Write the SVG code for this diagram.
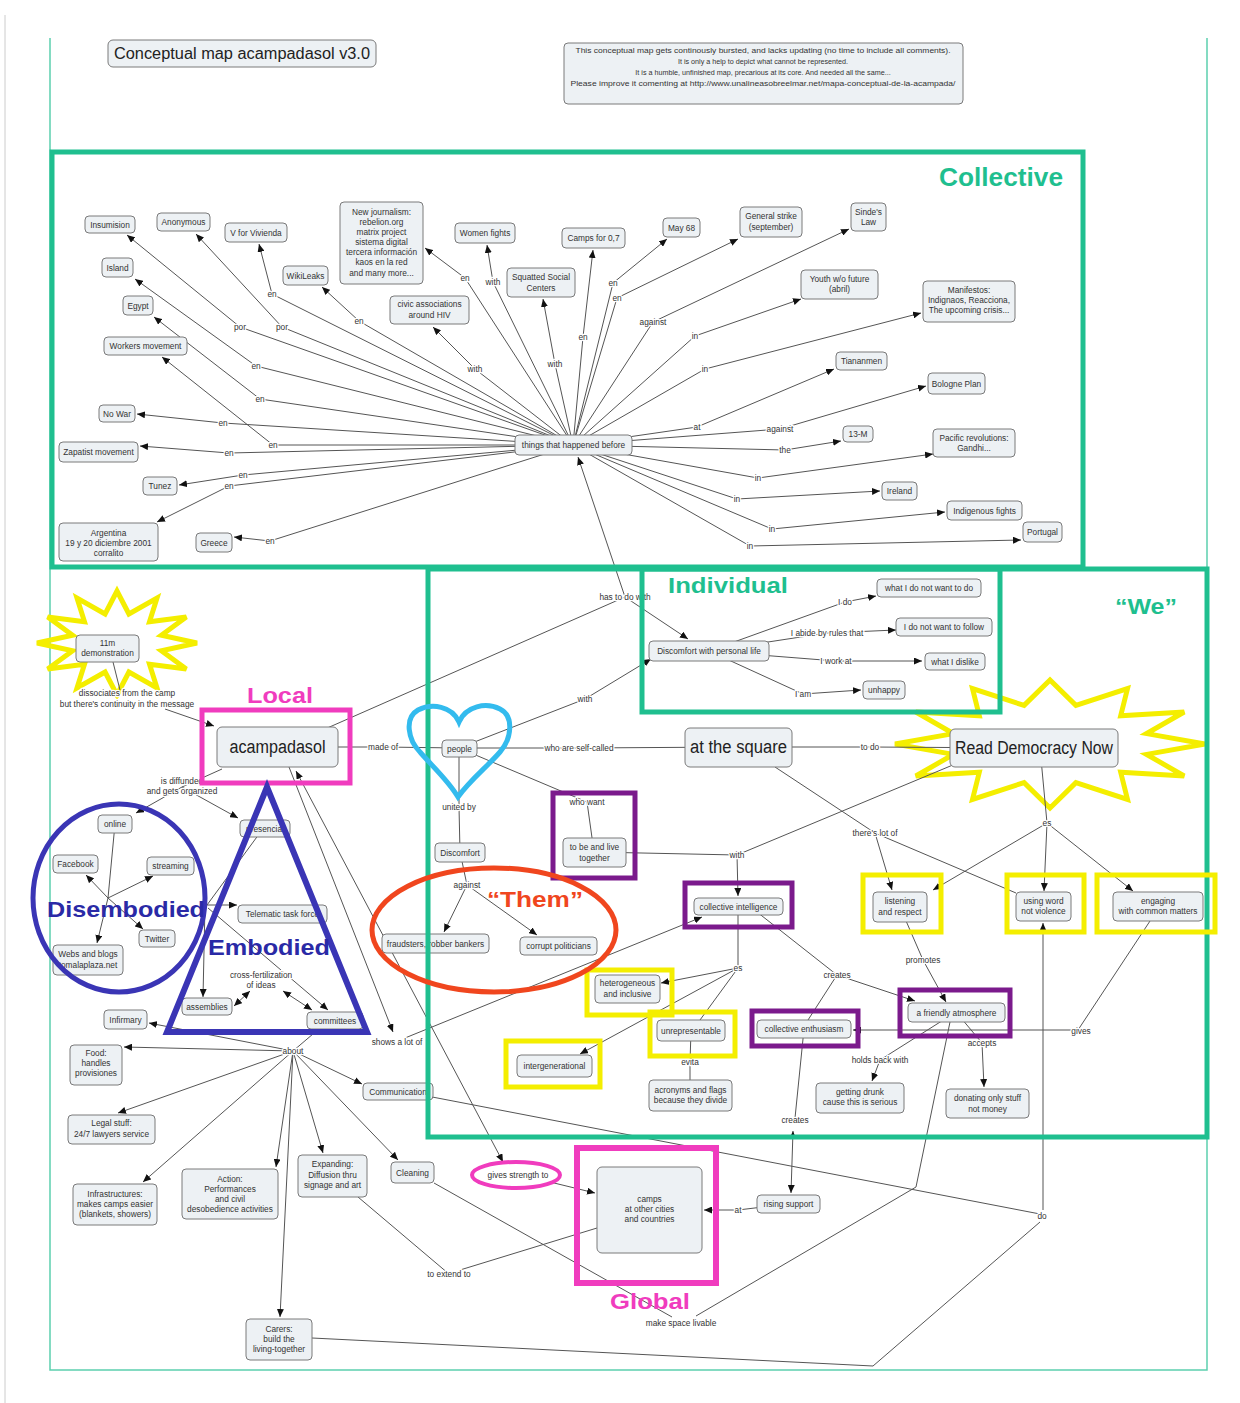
<svg xmlns="http://www.w3.org/2000/svg" width="1240" height="1403" viewBox="0 0 1240 1403">
<style>
.n rect{fill:#edf1f4;stroke:#7a7a7a;stroke-width:1}
.t{font-family:"Liberation Sans",Arial,sans-serif;font-size:8.3px;fill:#333;text-anchor:middle}
.big{font-family:"Liberation Sans",Arial,sans-serif;font-size:18px;fill:#222;text-anchor:middle}
.l{font-family:"Liberation Sans",Arial,sans-serif;font-size:8.3px;fill:#333;text-anchor:middle;stroke:#fff;stroke-width:2.5px;paint-order:stroke;stroke-linejoin:round}
.c{fill:none;stroke:#555;stroke-width:1}
.a{marker-end:url(#ah)}
.b{marker-start:url(#ah);marker-end:url(#ah)}
.cat{font-family:"Liberation Sans",Arial,sans-serif;font-weight:bold;font-size:22px;text-anchor:middle}
.teal{fill:none;stroke:#1fbf8f;stroke-width:5}
.yel{fill:none;stroke:#f4ee00;stroke-width:5}
.pur{fill:none;stroke:#7b1a8c;stroke-width:5}
.mag{fill:none;stroke:#f03cbe;stroke-width:5}
</style>
<defs>
<marker id="ah" viewBox="0 0 8 7" refX="8" refY="3.5" markerWidth="8" markerHeight="7" markerUnits="userSpaceOnUse" orient="auto-start-reverse"><path d="M0,0 L8,3.5 L0,7 z" fill="#111"/></marker>
</defs>
<rect width="1240" height="1403" fill="#fff"/>
<line x1="5" y1="15" x2="5" y2="1403" stroke="#ccc" stroke-width="1"/>
<g id="frame" stroke="#5ccfae" stroke-width="1.5" fill="none">
<polyline points="50,38 50,1370 1207,1370 1207,38"/>
</g>
<g id="stars">
<polygon fill="none" stroke="#f4ee00" stroke-width="5" points="197,643 161.4,650.8 186.3,669 149.5,664.2 157,688 128.9,672 117,695 105.1,672 77,688 84.5,664.2 47.7,669 72.6,650.8 37,643 72.6,635.2 47.7,617 84.5,621.8 77,598 105.1,614 117,591 128.9,614 157,598 149.5,621.8 186.3,617 161.4,635.2"/>
<polygon fill="none" stroke="#f4ee00" stroke-width="5" points="1205,744 1146.6,754.4 1184.2,776 1120.7,772.3 1127.5,799.4 1075.9,782.6 1050,808 1024.1,782.6 972.5,799.4 979.3,772.3 915.8,776 953.4,754.4 895,744 953.4,733.6 915.8,712 979.3,715.7 972.5,688.6 1024.1,705.4 1050,680 1075.9,705.4 1127.5,688.6 1120.7,715.7 1184.2,712 1146.6,733.6"/>
</g>
<g id="connectors">
<polyline class="c a" points="573,445 240,327 127,235"/>
<polyline class="c a" points="573,445 282,327 196,234"/>
<polyline class="c a" points="573,445 272,294 259,244"/>
<polyline class="c a" points="573,445 256,366 135,279"/>
<polyline class="c a" points="573,445 359,321 322,287"/>
<polyline class="c a" points="573,445 260,399 154,317"/>
<polyline class="c a" points="573,445 273,445 162,357"/>
<polyline class="c a" points="573,445 223,423 137,414"/>
<polyline class="c a" points="573,445 229,453 140,446"/>
<polyline class="c a" points="573,445 243,475 179,485"/>
<polyline class="c a" points="573,445 229,486 157,522"/>
<polyline class="c a" points="573,445 270,541 234,537"/>
<polyline class="c a" points="573,445 465,278 425,248"/>
<polyline class="c a" points="573,445 475,369 433,327"/>
<polyline class="c a" points="573,445 493,282 487,245"/>
<polyline class="c a" points="573,445 555,364 543,299"/>
<polyline class="c a" points="573,445 583,337 593,250"/>
<polyline class="c a" points="573,445 613,283 667,239"/>
<polyline class="c a" points="573,445 617,298 738,239"/>
<polyline class="c a" points="573,445 653,322 849,229"/>
<polyline class="c a" points="573,445 695,336 801,299"/>
<polyline class="c a" points="573,445 705,369 921,313"/>
<polyline class="c a" points="573,445 697,427 834,369"/>
<polyline class="c a" points="573,445 780,429 926,386"/>
<polyline class="c a" points="573,445 785,450 841,441"/>
<polyline class="c a" points="573,445 758,478 933,454"/>
<polyline class="c a" points="573,445 737,499 880,491"/>
<polyline class="c a" points="573,445 772,529 945,512"/>
<polyline class="c a" points="573,445 750,546 1021,540"/>
<polyline class="c a" points="625,597 578,457"/>
<polyline class="c" points="300,740 625,597"/>
<polyline class="c a" points="625,597 688,639"/>
<polyline class="c" points="110,650 120,690"/>
<polyline class="c a" points="165,709 214,726"/>
<polyline class="c" points="278,747 383,747 459,748"/>
<polyline class="c a" points="459,748 585,699 651,659"/>
<polyline class="c" points="459,748 579,748 738,747"/>
<polyline class="c" points="459,748 459,807 460,852"/>
<polyline class="c" points="459,748 587,802 594,852"/>
<polyline class="c" points="738,747 870,747 1034,748"/>
<polyline class="c a" points="775,767 875,833 892,890"/>
<polyline class="c" points="875,833 1016,893"/>
<polyline class="c" points="1040,748 1047,823"/>
<polyline class="c a" points="1047,823 933,890"/>
<polyline class="c a" points="1047,823 1044,891"/>
<polyline class="c a" points="1047,823 1133,891"/>
<polyline class="c a" points="709,651 845,602 876,596"/>
<polyline class="c a" points="709,651 827,633 896,630"/>
<polyline class="c a" points="709,651 836,661 922,661"/>
<polyline class="c a" points="709,651 803,694 861,690"/>
<polyline class="c a" points="594,852 737,855 738,896"/>
<polyline class="c" points="737,855 960,762"/>
<polyline class="c" points="460,852 467,885"/>
<polyline class="c a" points="467,885 444,932"/>
<polyline class="c a" points="467,885 537,935"/>
<polyline class="c" points="738,906 738,968"/>
<polyline class="c a" points="738,968 661,983"/>
<polyline class="c" points="738,968 700,1020"/>
<polyline class="c a" points="738,968 580,1054"/>
<polyline class="c a" points="757,912 837,975 915,1001"/>
<polyline class="c" points="837,975 808,1020"/>
<polyline class="c a" points="900,907 923,960 946,1002"/>
<polyline class="c a" points="1150,921 1078,1030 853,1030"/>
<polyline class="c a" points="956,1012 982,1043 984,1087"/>
<polyline class="c a" points="956,1012 880,1060 872,1081"/>
<polyline class="c" points="691,1031 690,1062 690,1080"/>
<polyline class="c" points="804,1029 795,1118"/>
<polyline class="c b" points="793,1131 791,1193"/>
<polyline class="c a" points="788,1204 738,1210 704,1210"/>
<polyline class="c a" points="289,767 393,1032"/>
<polyline class="c a" points="405,1038 702,917"/>
<polyline class="c b" points="296,771 503,1162"/>
<polyline class="c a" points="550,1182 595,1193"/>
<polyline class="c" points="222,769 182,787"/>
<polyline class="c a" points="182,787 136,813"/>
<polyline class="c a" points="182,787 238,818"/>
<polyline class="c" points="115,824 108,898"/>
<polyline class="c a" points="108,898 86,875"/>
<polyline class="c a" points="108,898 153,876"/>
<polyline class="c a" points="108,898 143,929"/>
<polyline class="c a" points="108,898 97,943"/>
<polyline class="c" points="262,830 207,905"/>
<polyline class="c a" points="207,905 237,905"/>
<polyline class="c a" points="205,905 203,997"/>
<polyline class="c a" points="208,908 328,1010"/>
<polyline class="c b" points="234,1006 250,991"/>
<polyline class="c b" points="283,991 312,1010"/>
<polyline class="c" points="320,1028 293,1051"/>
<polyline class="c a" points="293,1051 149,1023"/>
<polyline class="c a" points="293,1051 124,1047"/>
<polyline class="c a" points="293,1051 362,1084"/>
<polyline class="c a" points="293,1051 118,1113"/>
<polyline class="c a" points="293,1051 143,1182"/>
<polyline class="c a" points="293,1051 276,1167"/>
<polyline class="c a" points="293,1051 323,1153"/>
<polyline class="c a" points="293,1051 398,1160"/>
<polyline class="c a" points="293,1051 280,1317"/>
<polyline class="c" points="358,1197 449,1274"/>
<polyline class="c" points="460,1270 597,1228"/>
<polyline class="c" points="434,1183 672,1317"/>
<polyline class="c" points="696,1316 916,1187 950,1022"/>
<polyline class="c" points="427,1096 1040,1214"/>
<polyline class="c a" points="1043,1210 1043,923"/>
<polyline class="c" points="312,1338 873,1366 1040,1222"/>
</g>
<g id="labels">
<text class="l" x="240" y="330">por</text>
<text class="l" x="282" y="330">por</text>
<text class="l" x="272" y="297">en</text>
<text class="l" x="256" y="369">en</text>
<text class="l" x="359" y="324">en</text>
<text class="l" x="260" y="402">en</text>
<text class="l" x="273" y="448">en</text>
<text class="l" x="223" y="426">en</text>
<text class="l" x="229" y="456">en</text>
<text class="l" x="243" y="478">en</text>
<text class="l" x="229" y="489">en</text>
<text class="l" x="270" y="544">en</text>
<text class="l" x="465" y="281">en</text>
<text class="l" x="475" y="372">with</text>
<text class="l" x="493" y="285">with</text>
<text class="l" x="555" y="367">with</text>
<text class="l" x="583" y="340">en</text>
<text class="l" x="613" y="286">en</text>
<text class="l" x="617" y="301">en</text>
<text class="l" x="653" y="325">against</text>
<text class="l" x="695" y="339">in</text>
<text class="l" x="705" y="372">in</text>
<text class="l" x="697" y="430">at</text>
<text class="l" x="780" y="432">against</text>
<text class="l" x="785" y="453">the</text>
<text class="l" x="758" y="481">in</text>
<text class="l" x="737" y="502">in</text>
<text class="l" x="772" y="532">in</text>
<text class="l" x="750" y="549">in</text>
<text class="l" x="625" y="600">has to do with</text>
<text class="l" x="127" y="696">dissociates from the camp</text>
<text class="l" x="127" y="707">but there's continuity in the message</text>
<text class="l" x="383" y="750">made of</text>
<text class="l" x="182" y="784">is diffunded</text>
<text class="l" x="182" y="794">and gets organized</text>
<text class="l" x="585" y="702">with</text>
<text class="l" x="579" y="751">who are self-called</text>
<text class="l" x="459" y="810">united by</text>
<text class="l" x="587" y="805">who want</text>
<text class="l" x="870" y="750">to do</text>
<text class="l" x="845" y="605">I do</text>
<text class="l" x="827" y="636">I abide by rules that</text>
<text class="l" x="836" y="664">I work at</text>
<text class="l" x="803" y="697">I am</text>
<text class="l" x="875" y="836">there's lot of</text>
<text class="l" x="1047" y="826">es</text>
<text class="l" x="737" y="858">with</text>
<text class="l" x="467" y="888">against</text>
<text class="l" x="738" y="971">es</text>
<text class="l" x="837" y="978">creates</text>
<text class="l" x="923" y="963">promotes</text>
<text class="l" x="1081" y="1034">gives</text>
<text class="l" x="982" y="1046">accepts</text>
<text class="l" x="880" y="1063">holds back with</text>
<text class="l" x="690" y="1065">evita</text>
<text class="l" x="795" y="1123">creates</text>
<text class="l" x="738" y="1213">at</text>
<text class="l" x="293" y="1054">about</text>
<text class="l" x="397" y="1045">shows a lot of</text>
<text class="l" x="261" y="978">cross-fertilization</text>
<text class="l" x="261" y="988">of ideas</text>
<text class="l" x="449" y="1277">to extend to</text>
<text class="l" x="681" y="1326">make space livable</text>
<text class="l" x="1042" y="1219">do</text>
</g>
<g id="nodes">
<g id="title" class="n"><rect x="108" y="40" width="268" height="27" rx="5"/><text class="t" x="242" y="59" style="font-size:16px;fill:#222" textLength="256" lengthAdjust="spacingAndGlyphs">Conceptual map acampadasol v3.0</text></g>
<g id="note" class="n"><rect x="564" y="43" width="399" height="61" rx="4"/>
<text class="t" style="font-size:7.2px"><tspan x="763" y="53" textLength="375" lengthAdjust="spacingAndGlyphs">This conceptual map gets continously bursted, and lacks updating (no time to include all comments).</tspan><tspan x="763" y="64">It is only a help to depict what cannot be represented.</tspan><tspan x="763" y="75">It is a humble, unfinished map, precarious at its core.  And needed all the same...</tspan><tspan x="763" y="86" textLength="385" lengthAdjust="spacingAndGlyphs">Please improve it comenting at http://www.unalineasobreelmar.net/mapa-conceptual-de-la-acampada/</tspan></text></g>
<g id="hub" class="n"><rect x="515" y="435" width="117" height="20" rx="4"/><text class="t" x="573.5" y="448">things that happened before</text></g>
<g id="insumision" class="n"><rect x="85" y="216" width="50" height="17" rx="4"/><text class="t" x="110" y="227.5">Insumision</text></g>
<g id="anonymous" class="n"><rect x="157" y="213" width="53" height="18" rx="4"/><text class="t" x="183.5" y="225">Anonymous</text></g>
<g id="vvivienda" class="n"><rect x="225" y="223" width="62" height="19" rx="4"/><text class="t" x="256" y="235.5">V for Vivienda</text></g>
<g id="island" class="n"><rect x="102" y="258" width="31" height="19" rx="4"/><text class="t" x="117.5" y="270.5">Island</text></g>
<g id="wikileaks" class="n"><rect x="283" y="266" width="45" height="19" rx="4"/><text class="t" x="305.5" y="278.5">WikiLeaks</text></g>
<g id="newjournalism" class="n"><rect x="340" y="202" width="83" height="82" rx="4"/><text class="t"><tspan x="381.5" y="215">New journalism:</tspan><tspan x="381.5" y="225">rebelion.org</tspan><tspan x="381.5" y="235">matrix project</tspan><tspan x="381.5" y="245">sistema digital</tspan><tspan x="381.5" y="255">tercera información</tspan><tspan x="381.5" y="265">kaos en la red</tspan><tspan x="381.5" y="276">and many more...</tspan></text></g>
<g id="egypt" class="n"><rect x="123" y="296" width="30" height="19" rx="4"/><text class="t" x="138" y="308.5">Egypt</text></g>
<g id="civic" class="n"><rect x="390" y="296" width="79" height="28" rx="4"/><text class="t"><tspan x="429.5" y="307">civic associations</tspan><tspan x="429.5" y="318">around HIV</tspan></text></g>
<g id="workers" class="n"><rect x="104" y="337" width="83" height="18" rx="4"/><text class="t" x="145.5" y="349">Workers movement</text></g>
<g id="nowar" class="n"><rect x="99" y="405" width="36" height="17" rx="4"/><text class="t" x="117" y="416.5">No War</text></g>
<g id="zapatist" class="n"><rect x="59" y="442" width="79" height="20" rx="4"/><text class="t" x="98.5" y="455">Zapatist movement</text></g>
<g id="tunez" class="n"><rect x="143" y="477" width="34" height="18" rx="4"/><text class="t" x="160" y="489">Tunez</text></g>
<g id="argentina" class="n"><rect x="59" y="523" width="99" height="38" rx="4"/><text class="t"><tspan x="108.5" y="536">Argentina</tspan><tspan x="108.5" y="546">19 y 20 diciembre 2001</tspan><tspan x="108.5" y="556">corralito</tspan></text></g>
<g id="greece" class="n"><rect x="196" y="533" width="36" height="19" rx="4"/><text class="t" x="214" y="545.5">Greece</text></g>
<g id="women" class="n"><rect x="455" y="223" width="60" height="20" rx="4"/><text class="t" x="485" y="236">Women fights</text></g>
<g id="camps07" class="n"><rect x="562" y="228" width="63" height="20" rx="4"/><text class="t" x="593.5" y="241">Camps for 0,7</text></g>
<g id="may68" class="n"><rect x="663" y="218" width="37" height="19" rx="4"/><text class="t" x="681.5" y="230.5">May 68</text></g>
<g id="squatted" class="n"><rect x="507" y="268" width="68" height="29" rx="4"/><text class="t"><tspan x="541" y="280">Squatted Social</tspan><tspan x="541" y="291">Centers</tspan></text></g>
<g id="general" class="n"><rect x="740" y="207" width="62" height="30" rx="4"/><text class="t"><tspan x="771" y="219">General strike</tspan><tspan x="771" y="230">(september)</tspan></text></g>
<g id="sinde" class="n"><rect x="851" y="203" width="35" height="28" rx="4"/><text class="t"><tspan x="868.5" y="215">Sinde's</tspan><tspan x="868.5" y="225">Law</tspan></text></g>
<g id="youth" class="n"><rect x="801" y="270" width="77" height="29" rx="4"/><text class="t"><tspan x="839.5" y="282">Youth w/o future</tspan><tspan x="839.5" y="292">(abril)</tspan></text></g>
<g id="manifestos" class="n"><rect x="923" y="281" width="92" height="41" rx="4"/><text class="t"><tspan x="969" y="293">Manifestos:</tspan><tspan x="969" y="303">Indignaos, Reacciona,</tspan><tspan x="969" y="313">The upcoming crisis...</tspan></text></g>
<g id="tiananmen" class="n"><rect x="836" y="352" width="51" height="18" rx="4"/><text class="t" x="861.5" y="364">Tiananmen</text></g>
<g id="bologne" class="n"><rect x="928" y="373" width="57" height="21" rx="4"/><text class="t" x="956.5" y="386.5">Bologne Plan</text></g>
<g id="m13" class="n"><rect x="843" y="426" width="30" height="16" rx="4"/><text class="t" x="858" y="437">13-M</text></g>
<g id="pacific" class="n"><rect x="933" y="429" width="82" height="28" rx="4"/><text class="t"><tspan x="974" y="441">Pacific revolutions:</tspan><tspan x="974" y="451">Gandhi...</tspan></text></g>
<g id="ireland" class="n"><rect x="882" y="482" width="35" height="18" rx="4"/><text class="t" x="899.5" y="494">Ireland</text></g>
<g id="indigenous" class="n"><rect x="947" y="501" width="75" height="19" rx="4"/><text class="t" x="984.5" y="513.5">Indigenous fights</text></g>
<g id="portugal" class="n"><rect x="1023" y="522" width="39" height="20" rx="4"/><text class="t" x="1042.5" y="535">Portugal</text></g>
<g id="m11" class="n"><rect x="76" y="635" width="63" height="27" rx="4"/><text class="t"><tspan x="107.5" y="646">11m</tspan><tspan x="107.5" y="656">demonstration</tspan></text></g>
<g id="acampadasol" class="n"><rect x="217" y="727" width="121" height="40" rx="5"/><text class="big" x="277.5" y="753" textLength="96" lengthAdjust="spacingAndGlyphs">acampadasol</text></g>
<g id="online" class="n"><rect x="98" y="815" width="34" height="18" rx="4"/><text class="t" x="115" y="827">online</text></g>
<g id="presencial" class="n"><rect x="240" y="820" width="50" height="17" rx="4"/><text class="t" x="265" y="831.5">presencial</text></g>
<g id="facebook" class="n"><rect x="53" y="855" width="45" height="18" rx="4"/><text class="t" x="75.5" y="867">Facebook</text></g>
<g id="streaming" class="n"><rect x="147" y="857" width="47" height="18" rx="4"/><text class="t" x="170.5" y="869">streaming</text></g>
<g id="twitter" class="n"><rect x="139" y="930" width="36" height="17" rx="4"/><text class="t" x="157" y="941.5">Twitter</text></g>
<g id="webs" class="n"><rect x="53" y="945" width="70" height="30" rx="4"/><text class="t"><tspan x="88" y="957">Webs and blogs</tspan><tspan x="88" y="968">tomalaplaza.net</tspan></text></g>
<g id="telematic" class="n"><rect x="238" y="905" width="89" height="18" rx="4"/><text class="t" x="282.5" y="917">Telematic task force</text></g>
<g id="assemblies" class="n"><rect x="182" y="998" width="50" height="17" rx="4"/><text class="t" x="207" y="1009.5">assemblies</text></g>
<g id="committees" class="n"><rect x="307" y="1012" width="56" height="17" rx="4"/><text class="t" x="335" y="1023.5">committees</text></g>
<g id="infirmary" class="n"><rect x="104" y="1010" width="43" height="19" rx="4"/><text class="t" x="125.5" y="1022.5">Infirmary</text></g>
<g id="food" class="n"><rect x="70" y="1045" width="52" height="40" rx="4"/><text class="t"><tspan x="96" y="1056">Food:</tspan><tspan x="96" y="1066">handles</tspan><tspan x="96" y="1076">provisiones</tspan></text></g>
<g id="communication" class="n"><rect x="363" y="1083" width="70" height="17" rx="4"/><text class="t" x="398" y="1094.5">Communication</text></g>
<g id="legal" class="n"><rect x="68" y="1115" width="87" height="29" rx="4"/><text class="t"><tspan x="111.5" y="1126">Legal stuff:</tspan><tspan x="111.5" y="1137">24/7 lawyers service</tspan></text></g>
<g id="infra" class="n"><rect x="73" y="1184" width="84" height="41" rx="4"/><text class="t"><tspan x="115" y="1197">Infrastructures:</tspan><tspan x="115" y="1207">makes camps easier</tspan><tspan x="115" y="1217">(blankets, showers)</tspan></text></g>
<g id="action" class="n"><rect x="182" y="1169" width="96" height="50" rx="4"/><text class="t"><tspan x="230" y="1182">Action:</tspan><tspan x="230" y="1192">Performances</tspan><tspan x="230" y="1202">and civil</tspan><tspan x="230" y="1212">desobedience activities</tspan></text></g>
<g id="expanding" class="n"><rect x="298" y="1155" width="69" height="42" rx="4"/><text class="t"><tspan x="332.5" y="1167">Expanding:</tspan><tspan x="332.5" y="1178">Diffusion thru</tspan><tspan x="332.5" y="1188">signage and art</tspan></text></g>
<g id="cleaning" class="n"><rect x="391" y="1162" width="43" height="21" rx="4"/><text class="t" x="412.5" y="1175.5">Cleaning</text></g>
<g id="carers" class="n"><rect x="246" y="1319" width="66" height="41" rx="4"/><text class="t"><tspan x="279" y="1332">Carers:</tspan><tspan x="279" y="1342">build the</tspan><tspan x="279" y="1352">living-together</tspan></text></g>
<g id="people" class="n"><rect x="442" y="740" width="35" height="17" rx="4"/><text class="t" x="459.5" y="751.5">people</text></g>
<g id="discomfortpl" class="n"><rect x="649" y="641" width="120" height="20" rx="4"/><text class="t" x="709" y="654">Discomfort with personal life</text></g>
<g id="atsquare" class="n"><rect x="685" y="728" width="107" height="39" rx="5"/><text class="big" x="738.5" y="753" textLength="97" lengthAdjust="spacingAndGlyphs">at the square</text></g>
<g id="wdnwtd" class="n"><rect x="877" y="579" width="104" height="18" rx="4"/><text class="t" x="929" y="591">what I do not want to do</text></g>
<g id="idnwtf" class="n"><rect x="896" y="618" width="96" height="18" rx="4"/><text class="t" x="944" y="630">I do not want to follow</text></g>
<g id="dislike" class="n"><rect x="925" y="653" width="60" height="17" rx="4"/><text class="t" x="955" y="664.5">what I dislike</text></g>
<g id="unhappy" class="n"><rect x="863" y="681" width="42" height="18" rx="4"/><text class="t" x="884" y="693">unhappy</text></g>
<g id="rdn" class="n"><rect x="950" y="729" width="168" height="38" rx="5"/><text class="big" x="1034" y="754" textLength="158" lengthAdjust="spacingAndGlyphs">Read Democracy Now</text></g>
<g id="tobelive" class="n"><rect x="563" y="838" width="63" height="29" rx="4"/><text class="t"><tspan x="594.5" y="850">to be and live</tspan><tspan x="594.5" y="861">together</tspan></text></g>
<g id="discomfort" class="n"><rect x="435" y="843" width="50" height="19" rx="4"/><text class="t" x="460" y="855.5">Discomfort</text></g>
<g id="fraudster" class="n"><rect x="382" y="934" width="107" height="19" rx="4"/><text class="t" x="435.5" y="946.5">fraudsters, robber bankers</text></g>
<g id="corrupt" class="n"><rect x="520" y="937" width="77" height="18" rx="4"/><text class="t" x="558.5" y="949">corrupt politicians</text></g>
<g id="collint" class="n"><rect x="694" y="898" width="89" height="17" rx="4"/><text class="t" x="738.5" y="909.5">collective intelligence</text></g>
<g id="listening" class="n"><rect x="873" y="892" width="54" height="30" rx="4"/><text class="t"><tspan x="900" y="904">listening</tspan><tspan x="900" y="915">and respect</tspan></text></g>
<g id="usingword" class="n"><rect x="1016" y="892" width="55" height="29" rx="4"/><text class="t"><tspan x="1043.5" y="904">using word</tspan><tspan x="1043.5" y="914">not violence</tspan></text></g>
<g id="engaging" class="n"><rect x="1113" y="892" width="90" height="29" rx="4"/><text class="t"><tspan x="1158" y="904">engaging</tspan><tspan x="1158" y="914">with common matters</tspan></text></g>
<g id="hetero" class="n"><rect x="595" y="975" width="65" height="28" rx="4"/><text class="t"><tspan x="627.5" y="986">heterogeneous</tspan><tspan x="627.5" y="997">and inclusive</tspan></text></g>
<g id="unrep" class="n"><rect x="657" y="1020" width="68" height="21" rx="4"/><text class="t" x="691" y="1033.5">unrepresentable</text></g>
<g id="intergen" class="n"><rect x="517" y="1055" width="75" height="22" rx="4"/><text class="t" x="554.5" y="1069">intergenerational</text></g>
<g id="acronyms" class="n"><rect x="649" y="1080" width="83" height="31" rx="4"/><text class="t"><tspan x="690.5" y="1093">acronyms and flags</tspan><tspan x="690.5" y="1103">because they divide</tspan></text></g>
<g id="friendly" class="n"><rect x="908" y="1003" width="97" height="19" rx="4"/><text class="t" x="956.5" y="1015.5">a friendly atmosphere</text></g>
<g id="collenth" class="n"><rect x="757" y="1020" width="94" height="18" rx="4"/><text class="t" x="804" y="1032">collective enthusiasm</text></g>
<g id="drunk" class="n"><rect x="816" y="1083" width="88" height="30" rx="4"/><text class="t"><tspan x="860" y="1095">getting drunk</tspan><tspan x="860" y="1105">cause this is serious</tspan></text></g>
<g id="donating" class="n"><rect x="946" y="1089" width="83" height="29" rx="4"/><text class="t"><tspan x="987.5" y="1101">donating only stuff</tspan><tspan x="987.5" y="1112">not money</tspan></text></g>
<g id="camps" class="n"><rect x="597" y="1167" width="105" height="86" rx="5"/><text class="t"><tspan x="649.5" y="1202">camps</tspan><tspan x="649.5" y="1212">at other cities</tspan><tspan x="649.5" y="1222">and countries</tspan></text></g>
<g id="rising" class="n"><rect x="757" y="1195" width="63" height="18" rx="4"/><text class="t" x="788.5" y="1207">rising support</text></g>
<g id="givesstrength"><ellipse cx="516" cy="1175" rx="44" ry="13" fill="none" stroke="#f03cbe" stroke-width="4"/><text class="t" x="518" y="1178">gives strength to</text></g>
</g>
<g id="regions">
<rect class="teal" x="52" y="152" width="1031" height="415"/>
<rect class="teal" x="428" y="569" width="779" height="568"/>
<rect class="teal" x="642" y="569" width="358" height="143"/>
<rect class="mag" x="202" y="710" width="148" height="73"/>
<rect class="mag" x="577" y="1148" width="139" height="135" style="stroke-width:6"/>
<rect class="pur" x="553" y="793" width="82" height="85"/>
<rect class="pur" x="685" y="883" width="107" height="44"/>
<rect class="pur" x="900" y="990" width="110" height="46"/>
<rect class="pur" x="752" y="1011" width="106" height="35"/>
<rect class="yel" x="863" y="875" width="78" height="57"/>
<rect class="yel" x="1007" y="875" width="77" height="57"/>
<rect class="yel" x="1097" y="875" width="118" height="57"/>
<rect class="yel" x="587" y="970" width="85" height="45"/>
<rect class="yel" x="650" y="1012" width="85" height="44"/>
<rect class="yel" x="506" y="1041" width="94" height="46"/>
<ellipse cx="494" cy="930" rx="122" ry="62" fill="none" stroke="#f0461e" stroke-width="5"/>
<ellipse cx="119" cy="898" rx="86" ry="94" fill="none" stroke="#3a35b5" stroke-width="5"/>
<polygon points="267,787 167,1032 367,1032" fill="none" stroke="#3a35b5" stroke-width="6" stroke-linejoin="miter"/>
<path d="M459,722 C452,706 432,703 418,710 C404,718 408,740 420,752 C432,766 448,780 458,797 C470,780 488,766 500,752 C512,738 514,716 500,709 C486,702 466,706 459,722 Z" fill="none" stroke="#33bbee" stroke-width="5"/>
</g>
<g id="categories">
<text class="cat" x="1001" y="186" style="font-size:25px;fill:#1fbf8f" textLength="124" lengthAdjust="spacingAndGlyphs">Collective</text>
<text class="cat" x="728" y="593" style="fill:#1fbf8f" textLength="120" lengthAdjust="spacingAndGlyphs">Individual</text>
<text class="cat" x="1146" y="614" style="fill:#1fbf8f" textLength="62" lengthAdjust="spacingAndGlyphs">“We”</text>
<text class="cat" x="280" y="703" style="fill:#f03cbe" textLength="66" lengthAdjust="spacingAndGlyphs">Local</text>
<text class="cat" x="650" y="1309" style="fill:#f03cbe" textLength="80" lengthAdjust="spacingAndGlyphs">Global</text>
<text class="cat" x="535" y="907" style="fill:#f0461e" textLength="96" lengthAdjust="spacingAndGlyphs">“Them”</text>
<text class="cat" x="126" y="917" style="fill:#2a2aa6" textLength="158" lengthAdjust="spacingAndGlyphs">Disembodied</text>
<text class="cat" x="269" y="955" style="fill:#2a2aa6" textLength="122" lengthAdjust="spacingAndGlyphs">Embodied</text>
</g>
</svg>
